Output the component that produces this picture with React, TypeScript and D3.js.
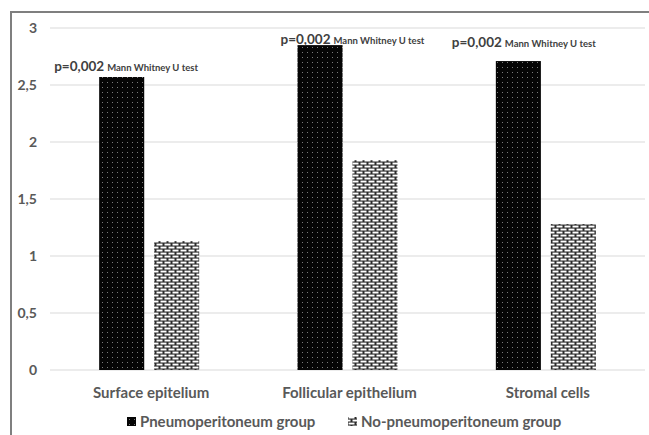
import React, { useEffect, useRef } from "react";
import * as d3 from "d3";

const categories = ["Surface epitelium", "Follicular epithelium", "Stromal cells"];
const seriesNames = ["Pneumoperitoneum group", "No-pneumoperitoneum group"];
const pneumoValues = [2.57, 2.85, 2.71];
const noPneumoValues = [1.13, 1.84, 1.28];
const yTicks = [0, 0.5, 1, 1.5, 2, 2.5, 3];
const pValues = ["p=0,002", "p=0,002", "p=0,002"];
const testName = "Mann Whitney U test";

const W = 649;
const H = 435;
const FONT = "Lato, 'Open Sans', sans-serif";

export default function App() {
  const ref = useRef<SVGSVGElement>(null);

  useEffect(() => {
    const svg = d3.select(ref.current);
    svg.selectAll("*").remove();

    const margin = { left: 50, right: 4, top: 28, bottom: 65 };
    const x = d3
      .scaleBand()
      .domain(categories)
      .range([margin.left, W - margin.right]);
    const y = d3
      .scaleLinear()
      .domain([0, 3])
      .range([H - margin.bottom, margin.top]);
    const inner = d3.scaleBand().domain(["a", "b"]).range([0, 100]).paddingInner(0.18);

    // patterns
    const defs = svg.append("defs");
    const dots = defs
      .append("pattern")
      .attr("id", "dots")
      .attr("width", 5)
      .attr("height", 5)
      .attr("patternUnits", "userSpaceOnUse");
    dots.append("rect").attr("width", 5).attr("height", 5).attr("fill", "#050505");
    dots.append("rect").attr("x", 2).attr("y", 2).attr("width", 1).attr("height", 1).attr("fill", "#7a7a7a");

    const brick = defs
      .append("pattern")
      .attr("id", "brick")
      .attr("width", 8)
      .attr("height", 6)
      .attr("patternUnits", "userSpaceOnUse");
    brick.append("rect").attr("width", 8).attr("height", 6).attr("fill", "#2a2a2a");
    brick.append("rect").attr("x", 0.5).attr("y", 0.6).attr("width", 6).attr("height", 1.9).attr("fill", "#fff");
    brick.append("rect").attr("x", 4.5).attr("y", 3.6).attr("width", 6).attr("height", 1.9).attr("fill", "#fff");
    brick.append("rect").attr("x", -3.5).attr("y", 3.6).attr("width", 6).attr("height", 1.9).attr("fill", "#fff");

    svg.append("rect").attr("width", W).attr("height", H).attr("fill", "#fff");

    // frame
    svg
      .append("path")
      .attr("d", `M11,${H} V12 H${W}`)
      .attr("fill", "none")
      .attr("stroke", "#7f7f7f")
      .attr("stroke-width", 2);

    // grid
    svg
      .append("g")
      .selectAll("line")
      .data(yTicks)
      .join("line")
      .attr("x1", margin.left)
      .attr("x2", W - margin.right)
      .attr("y1", (d) => y(d))
      .attr("y2", (d) => y(d))
      .attr("stroke", "#d9d9d9")
      .attr("stroke-width", 1);

    svg
      .append("g")
      .selectAll("text")
      .data(yTicks)
      .join("text")
      .attr("x", 37)
      .attr("y", (d) => y(d))
      .attr("dy", "0.35em")
      .attr("text-anchor", "end")
      .attr("font-family", FONT)
      .attr("font-weight", "bold")
      .attr("font-size", 14)
      .attr("fill", "#595959")
      .text((d) => String(d).replace(".", ","));

    const groupX = (c: string) => x(c)! + x.bandwidth() / 2 - 50;

    // bars
    const series = [
      { key: "a", values: pneumoValues, fill: "url(#dots)" },
      { key: "b", values: noPneumoValues, fill: "url(#brick)" },
    ];
    series.forEach((s) => {
      svg
        .append("g")
        .selectAll("rect")
        .data(categories)
        .join("rect")
        .attr("x", (c) => groupX(c) + inner(s.key)!)
        .attr("y", (c, i) => y(s.values[i]))
        .attr("width", inner.bandwidth())
        .attr("height", (c, i) => y(0) - y(s.values[i]))
        .attr("fill", s.fill);
    });

    // category labels
    svg
      .append("g")
      .selectAll("text")
      .data(categories)
      .join("text")
      .attr("x", (c) => x(c)! + x.bandwidth() / 2 + 2)
      .attr("y", 393)
      .attr("dy", "0.35em")
      .attr("text-anchor", "middle")
      .attr("font-family", FONT)
      .attr("font-weight", "bold")
      .attr("font-size", 15)
      .attr("fill", "#595959")
      .text((c) => c);

    // annotations
    const annoOffset = [-45, -17, -44];
    const annoY = [2.675, 2.91, 2.88];
    const anno = svg
      .append("g")
      .selectAll("text")
      .data(categories)
      .join("text")
      .attr("x", (c, i) => groupX(c) + annoOffset[i])
      .attr("y", (c, i) => y(annoY[i]))
      .attr("dy", "0.35em")
      .attr("font-family", FONT)
      .attr("font-weight", "bold")
      .attr("fill", "#404040");
    anno
      .append("tspan")
      .attr("font-size", 13.5)
      .text((c, i) => pValues[i]);
    anno
      .append("tspan")
      .attr("font-size", 9.5)
      .attr("dx", 3)
      .text(testName);

    // legend
    const legendX = [127, 348];
    const legend = svg
      .append("g")
      .selectAll("g")
      .data(seriesNames)
      .join("g")
      .attr("transform", (d, i) => `translate(${legendX[i]},422)`);
    legend
      .append("rect")
      .attr("x", 0)
      .attr("y", -5)
      .attr("width", 9)
      .attr("height", 9)
      .attr("fill", (d, i) => series[i].fill);
    legend
      .append("text")
      .attr("x", 13)
      .attr("dy", "0.35em")
      .attr("font-family", FONT)
      .attr("font-weight", "bold")
      .attr("font-size", 15)
      .attr("fill", "#595959")
      .text((d) => d);
  }, []);

  return (
    <svg
      ref={ref}
      width={W}
      height={H}
      style={{ position: "absolute", left: 0, top: 0, display: "block" }}
    />
  );
}
